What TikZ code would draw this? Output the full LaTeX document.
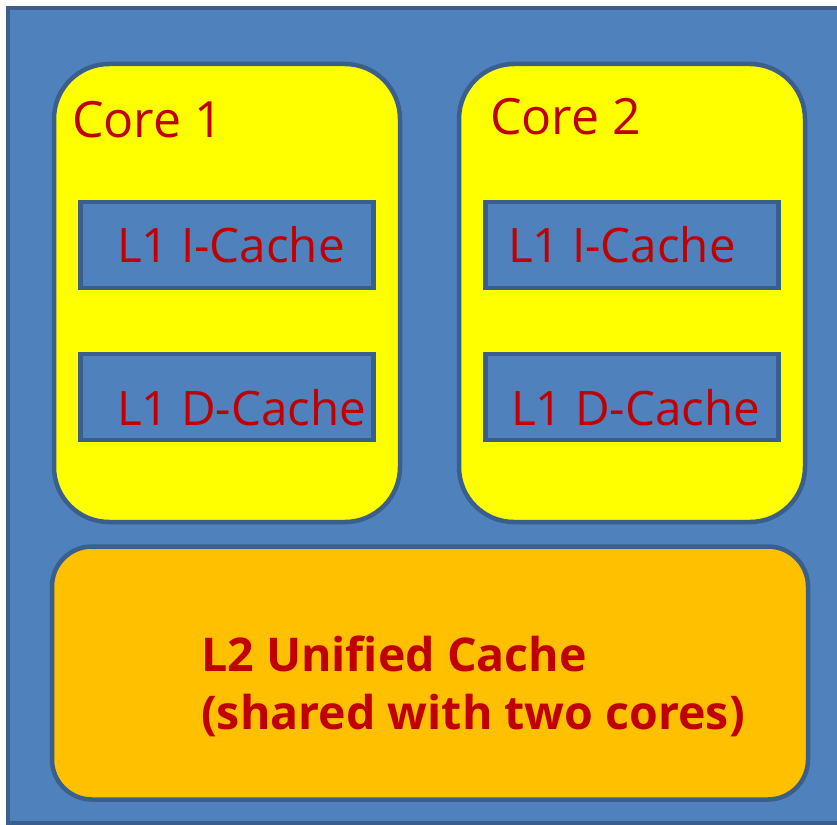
\documentclass[tikz,border=0pt]{standalone}
\usepackage{fontspec}
\setmainfont{Open Sans}
\usetikzlibrary{positioning}
\definecolor{chipblue}{HTML}{4F81BD}
\definecolor{chipedge}{HTML}{3B5F8C}
\definecolor{coreyellow}{HTML}{FFFF00}
\definecolor{ltwoorange}{HTML}{FFC000}
\definecolor{labelred}{HTML}{C00000}
\begin{document}
\begin{tikzpicture}[x=1pt,y=-1pt,
    chip/.style={draw=chipedge, line width=3.5pt, fill=chipblue},
    corebox/.style={draw=chipedge, line width=4.5pt, fill=coreyellow, rounded corners=55pt,
      minimum width=346pt, minimum height=458pt, inner sep=0pt},
    lonebox/.style={draw=chipedge, line width=4.5pt, fill=chipblue,
      minimum width=293pt, minimum height=86pt, inner sep=0pt},
    ltwobox/.style={draw=chipedge, line width=4.5pt, fill=ltwoorange, rounded corners=40pt,
      minimum width=756pt, minimum height=253pt, inner sep=0pt},
    corelabel/.style={anchor=base west, inner sep=0pt, text=labelred,
      font=\fontsize{50}{60}\selectfont},
    cachelabel/.style={anchor=base west, inner sep=0pt, text=labelred,
      font=\fontsize{47.5}{56}\selectfont},
    ltwolabel/.style={anchor=base west, inner sep=0pt, text=labelred, align=left,
      font=\bfseries\fontsize{46.5}{58}\selectfont}]
\useasboundingbox (0,0) rectangle (837,824);
\clip (0,0) rectangle (837,824);
% Chip package
\draw[chip] (8,8) rectangle (860,823);
% Cores
\node[corebox] (core1) at (227,293) {};
\node[corebox] (core2) at (632,293) {};
\node[corelabel] (core1lbl) at (72,137) {Core 1};
\node[corelabel] (core2lbl) at (490,134) {Core 2};
% L1 caches
\node[lonebox] (icache1) at (227,245) {};
\node[lonebox] (dcache1) at (227,397) {};
\node[lonebox] (icache2) at (632,245) {};
\node[lonebox] (dcache2) at (632,397) {};
\node[cachelabel] (icache1lbl) at (117,262) {L1 I-Cache};
\node[cachelabel] (dcache1lbl) at (117,425) {L1 D-Cache};
\node[cachelabel] (icache2lbl) at (508,262) {L1 I-Cache};
\node[cachelabel] (dcache2lbl) at (511,425) {L1 D-Cache};
% Shared L2 (base anchor sits on the last line)
\node[ltwobox] (ltwo) at (430,673) {};
\node[ltwolabel] (ltwolbl) at (201,729) {L2 Unified Cache\\(shared with two cores)};
\end{tikzpicture}
\end{document}
